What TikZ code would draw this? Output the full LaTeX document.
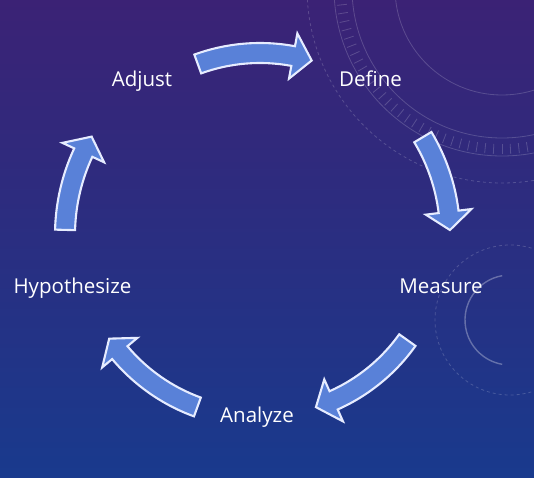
\documentclass[tikz,border=0pt]{standalone}
\usepackage{fontspec}
\setmainfont{Open Sans}
\usetikzlibrary{math}

\definecolor{bgtop}{HTML}{3B2275}
\definecolor{bgmid}{HTML}{272C80}
\definecolor{bgbot}{HTML}{193A8D}
\definecolor{arrowfill}{HTML}{5981D8}
\definecolor{arrowline}{HTML}{E6ECFF}

\begin{document}
\begin{tikzpicture}[x=1pt, y=1pt,
  steplabel/.style={text=white, font=\fontsize{20.5}{25}\selectfont, anchor=base},
  cyclearrow/.style={draw=arrowline, line width=2.1pt, fill=arrowfill, line join=miter},
  faint/.style={draw=white, opacity=0.18, line width=0.8pt}]
  \tikzmath{\cx = 260; \cy = 242; \w = 10; \hw = 23;}
  \useasboundingbox (0, 0) rectangle (534, 477);
  \shade[top color=bgtop, middle color=bgmid, bottom color=bgbot] (0, 0) rectangle (534, 477);

  % dial in the background
  \begin{scope}
    \clip (0, 0) rectangle (534, 477);
    \draw[faint] (502, 489) circle[radius=107];
    \draw[faint] (502, 489) circle[radius=150];
    \draw[faint] (502, 489) circle[radius=168];
    \draw[faint, dashed] (502, 489) circle[radius=195];
    \foreach \t in {186, 189, ..., 285}
      \draw[faint, shift={(502, 489)}] (\t:156) -- (\t:166);
    \draw[faint, dashed] (510, 157) circle[radius=75];
    \draw[faint, line width=1.4pt, opacity=0.3] (510, 157) ++(100:45) arc[start angle=100, end angle=260, radius=45];
  \end{scope}

  % cycle arrows
  \foreach \r/\a/\m/\b in {182/110/79.5/73.5, 190/31/7/1.5, 181/-35.5/-66/-72, 183/250/220/214.5, 195/178.5/155/149.7}
    \draw[cyclearrow, shift={(\cx, \cy)}] (\a:\r+\w) arc[start angle=\a, end angle=\m, radius=\r+\w]
      -- (\m:\r+\hw) -- (\b:\r) -- (\m:\r-\hw) -- (\m:\r-\w)
      arc[start angle=\m, end angle=\a, radius=\r-\w] -- cycle;

  \node[steplabel] (adjust) at (142, 390) {Adjust};
  \node[steplabel] (define) at (370.5, 390) {Define};
  \node[steplabel] (measure) at (441, 184) {Measure};
  \node[steplabel] (analyze) at (257, 55) {Analyze};
  \node[steplabel] (hypothesize) at (72.5, 184) {Hypothesize};
\end{tikzpicture}
\end{document}
